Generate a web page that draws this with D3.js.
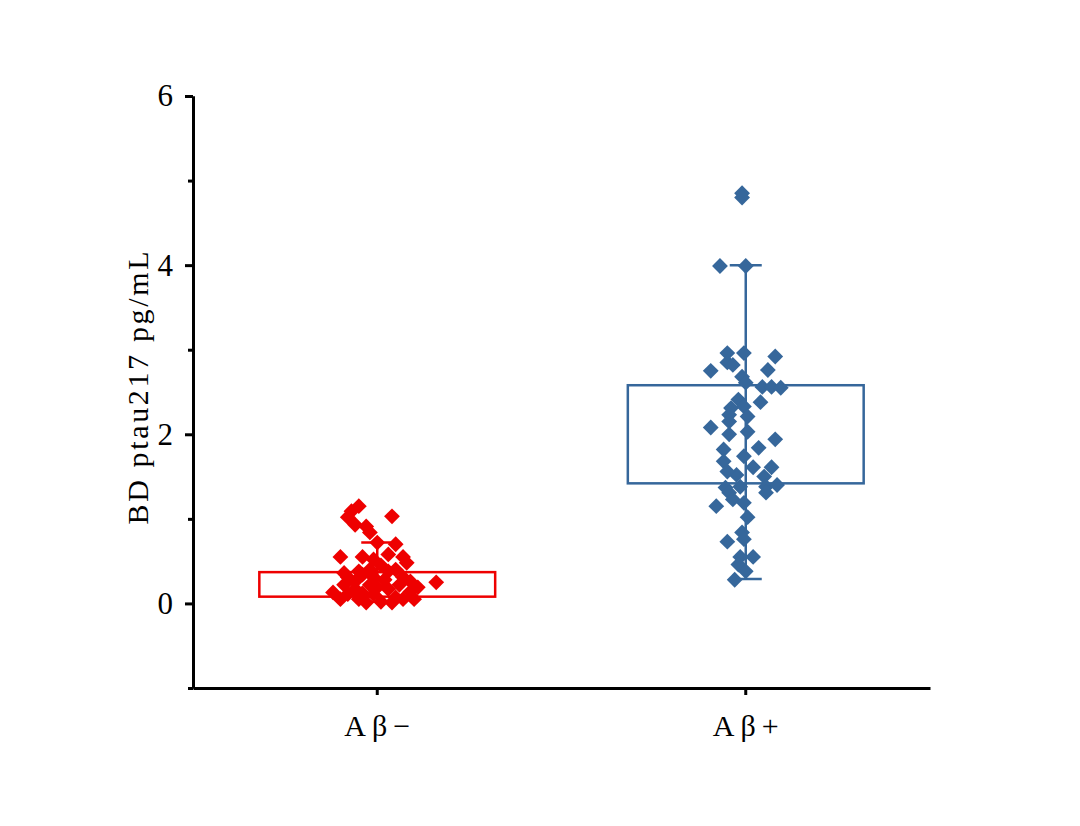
<!DOCTYPE HTML>
<meta charset="utf-8">
<html>
<head>
<script src="https://d3js.org/d3.v7.min.js"></script>
<style>
  body { margin: 0; background: #fff; }
</style>
</head>
<body>
<svg width="1080" height="826"></svg>
<script>
// categories and colours
var categories = ["Aβ−", "Aβ+"];
var colors = ["#ee0000", "#36679b"];

// box stats: q1, q3, lower whisker, upper whisker
var q1 = [0.08, 1.42];
var q3 = [0.37, 2.58];
var whiskLo = [0.02, 0.29];
var whiskHi = [0.72, 4.0];

// points, value + horizontal jitter (in category-step units)
var negValues = [1.15, 1.09, 1.02, 0.93, 0.91, 0.84, 1.03, 0.72, 0.70, 0.55, 0.55, 0.58, 0.55, 0.52, 0.48, 0.25,
  0.31, 0.22, 0.13, 0.05, 0.17, 0.05, 0.34, 0.22, 0.11, 0.02, 0.28, 0.17, 0.07, 0.22, 0.31, 0.14, 0.05, 0.19,
  0.40, 0.45, 0.38, 0.26, 0.12, 0.38, 0.40, 0.19, 0.01, 0.01, 0.11, 0.05, 0.26, 0.31, 0.36];
var negJitter = [-0.05, -0.07, -0.08, -0.06, -0.03, -0.02, 0.04, 0.0, 0.05, -0.10, -0.04, 0.03, 0.07, -0.01, 0.08, 0.16,
  -0.08, -0.09, -0.12, -0.10, -0.06, -0.05, -0.04, -0.02, -0.01, 0.01, 0.02, 0.03, 0.05, 0.06, 0.07, 0.09, 0.10, 0.11,
  -0.02, 0.01, -0.05, -0.06, -0.04, 0.03, 0.05, 0.0, -0.03, 0.04, -0.08, 0.07, 0.09, -0.01, -0.09];

var posValues = [4.85, 4.80, 3.99, 3.99, 2.96, 2.96, 2.92, 2.85, 2.75, 2.82, 2.76, 2.68, 2.61, 2.56, 2.56, 2.55,
  2.41, 2.31, 2.38, 2.33, 2.23, 2.08, 2.15, 2.21, 2.03, 2.00, 1.94, 1.84, 1.82, 1.74, 1.68, 1.61, 1.61, 1.52,
  1.56, 1.50, 1.37, 1.38, 1.38, 1.40, 1.31, 1.31, 1.15, 1.23, 1.19, 1.02, 0.84, 0.73, 0.76, 0.55, 0.55, 0.46,
  0.38, 0.28];
var posJitter = [-0.01, -0.01, -0.07, 0.0, -0.05, -0.005, 0.08, -0.05, -0.095, -0.035, 0.06, -0.01, 0.0, 0.045, 0.07, 0.095,
  -0.02, -0.04, 0.04, -0.005, -0.045, -0.095, -0.045, 0.005, 0.005, -0.045, 0.08, 0.035, -0.06, -0.005, -0.06, 0.02, 0.07, -0.025,
  -0.05, 0.05, -0.055, -0.015, 0.055, 0.085, -0.045, 0.055, -0.08, -0.035, -0.005, 0.005, -0.01, -0.05, -0.005, -0.015, 0.02, -0.02,
  0.0, -0.03];

var groups = [
  {values: negValues, jitter: negJitter},
  {values: posValues, jitter: posJitter}
];

var yTicks = [0, 2, 4, 6];
var yMinor = [-1, 1, 3, 5];

var svg = d3.select("svg");
var plotLeft = 193, plotRight = 930, plotTop = 96, plotBottom = 688;
var serif = "'Liberation Serif', 'DejaVu Serif', serif";

var x = d3.scaleBand().domain(categories).range([plotLeft, plotRight]).padding(0);
var y = d3.scaleLinear().domain([-1, 6]).range([plotBottom, plotTop]);

var boxW = x.step() * 0.64;
var capW = 32;

var g = svg.append("g");

categories.forEach(function(c, i) {
  var cx = x(c) + x.bandwidth() / 2;
  var col = colors[i];

  // whisker
  g.append("line")
      .attr("x1", cx).attr("x2", cx)
      .attr("y1", y(whiskLo[i])).attr("y2", y(whiskHi[i]))
      .attr("stroke", col).attr("stroke-width", 2.5);
  [whiskLo[i], whiskHi[i]].forEach(function(v) {
    g.append("line")
        .attr("x1", cx - capW / 2).attr("x2", cx + capW / 2)
        .attr("y1", y(v)).attr("y2", y(v))
        .attr("stroke", col).attr("stroke-width", 2.5);
  });

  // box
  g.append("rect")
      .attr("x", cx - boxW / 2)
      .attr("width", boxW)
      .attr("y", y(q3[i]))
      .attr("height", y(q1[i]) - y(q3[i]))
      .attr("fill", "none")
      .attr("stroke", col)
      .attr("stroke-width", 2.5);

  // points
  var diamond = d3.symbol().type(d3.symbolSquare).size(125);
  g.selectAll(".pt" + i)
      .data(groups[i].values)
    .enter().append("path")
      .attr("class", "pt" + i)
      .attr("d", diamond)
      .attr("fill", col)
      .attr("transform", function(d, j) {
        return "translate(" + (cx + groups[i].jitter[j] * x.step()) + "," + y(d) + ") rotate(45)";
      });
});

// y axis
var yAxis = svg.append("g")
    .attr("transform", "translate(" + plotLeft + ",0)")
    .call(d3.axisLeft(y).tickValues(yTicks).tickFormat(d3.format("d")).tickSize(8).tickSizeOuter(0).tickPadding(12));
svg.append("g")
    .attr("transform", "translate(" + plotLeft + ",0)")
    .call(d3.axisLeft(y).tickValues(yMinor).tickSize(5).tickSizeOuter(0).tickFormat(""));

// x axis
var xAxis = svg.append("g")
    .attr("transform", "translate(0," + plotBottom + ")")
    .call(d3.axisBottom(x).tickSize(7).tickSizeOuter(0).tickPadding(20));

svg.selectAll(".domain").attr("stroke", "#000").attr("stroke-width", 3);
svg.selectAll(".tick line").attr("stroke", "#000").attr("stroke-width", 3);
yAxis.selectAll("text")
    .style("font-family", serif).style("font-size", "31px").attr("fill", "#000");
xAxis.selectAll("text")
    .style("font-family", serif).style("font-size", "30px")
    .attr("fill", "#000")
    .attr("textLength", 66)
    .attr("lengthAdjust", "spacing");

// axis title
svg.append("text")
    .attr("transform", "translate(148," + ((y(6) + y(-1)) / 2 - 4) + ") rotate(-90)")
    .attr("text-anchor", "middle")
    .style("font-family", serif).style("font-size", "30px")
    .attr("textLength", 273)
    .attr("lengthAdjust", "spacing")
    .attr("fill", "#000")
    .text("BD ptau217 pg/mL");
</script>
</body>
</html>
